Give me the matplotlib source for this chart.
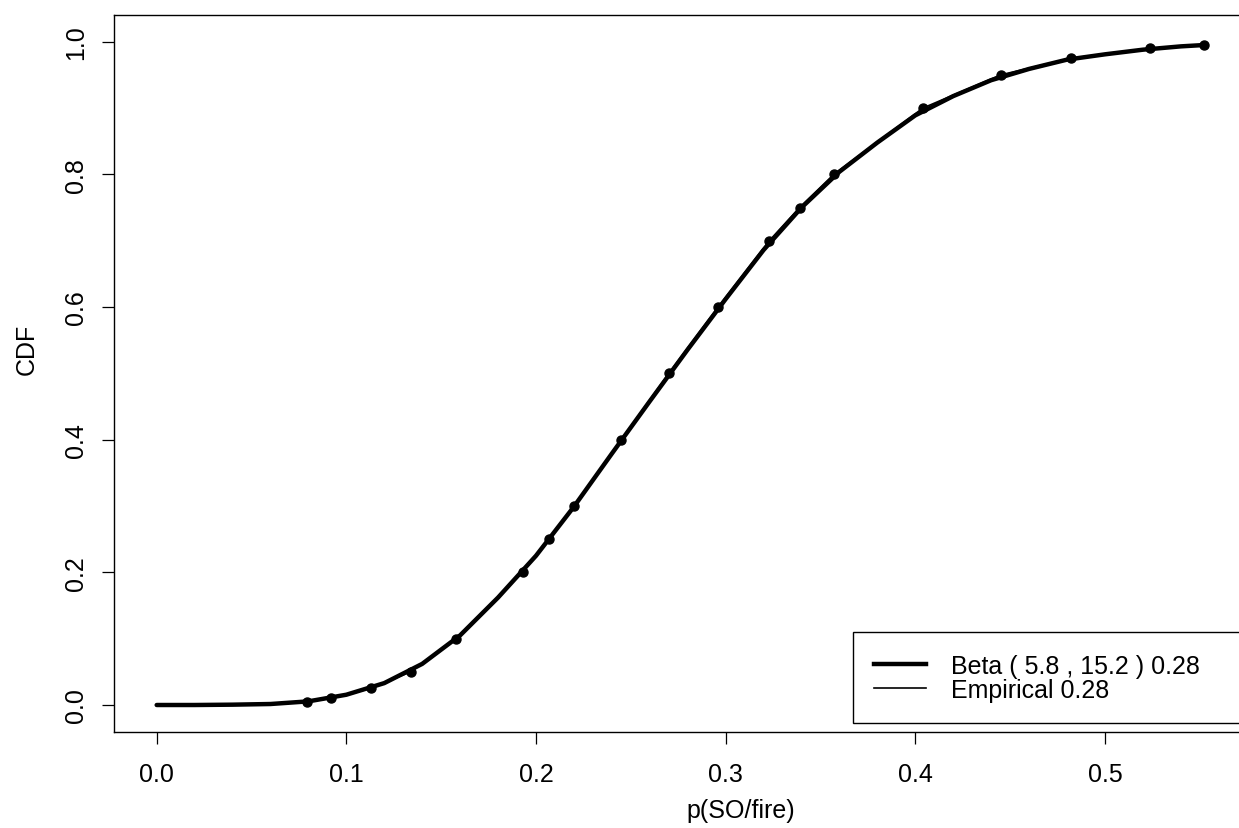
import matplotlib
matplotlib.use("Agg")
import matplotlib.pyplot as plt
from matplotlib.lines import Line2D

plt.rcParams['font.family'] = ['Liberation Sans', 'DejaVu Sans']

# Fitted Beta(5.8, 15.2) CDF curve
beta_x = [0.00, 0.02, 0.04, 0.06, 0.08, 0.10, 0.12, 0.14, 0.16, 0.18, 0.20,
          0.22, 0.24, 0.26, 0.28, 0.30, 0.32, 0.34, 0.36, 0.38, 0.40, 0.42,
          0.44, 0.46, 0.48, 0.50, 0.52, 0.54, 0.552]
beta_cdf = [0.0, 0.0, 0.0005, 0.0015, 0.0055, 0.0155, 0.033, 0.062, 0.105,
            0.162, 0.225, 0.299, 0.379, 0.458, 0.536, 0.612, 0.686, 0.750,
            0.804, 0.848, 0.889, 0.918, 0.942, 0.959, 0.973, 0.981, 0.988,
            0.993, 0.995]

# Empirical quantiles
emp_x = [0.079, 0.092, 0.113, 0.134, 0.158, 0.193, 0.207, 0.220, 0.245,
         0.270, 0.296, 0.323, 0.339, 0.357, 0.404, 0.445, 0.482, 0.524, 0.552]
emp_p = [0.005, 0.01, 0.025, 0.05, 0.1, 0.2, 0.25, 0.3, 0.4, 0.5, 0.6, 0.7,
         0.75, 0.8, 0.9, 0.95, 0.975, 0.99, 0.995]

x_ticks = [0.0, 0.1, 0.2, 0.3, 0.4, 0.5]
x_ticklabels = ["0.0", "0.1", "0.2", "0.3", "0.4", "0.5"]
y_ticks = [0.0, 0.2, 0.4, 0.6, 0.8, 1.0]
y_ticklabels = ["0.0", "0.2", "0.4", "0.6", "0.8", "1.0"]

beta_label = "Beta ( 5.8 , 15.2 ) 0.28"
emp_label = "Empirical 0.28"

W, H = 1239, 829
fig = plt.figure(figsize=(W / 100, H / 100), dpi=100)
fig.patch.set_facecolor("white")

left, right, top, bottom = 114, 1368, 16, 733
ax = fig.add_axes([left / W, (H - bottom) / H, (right - left) / W, (bottom - top) / H])

ax.plot(beta_x, beta_cdf, color="black", lw=3.2, solid_capstyle="round",
        solid_joinstyle="round", label=beta_label, zorder=3)
ax.plot(emp_x, emp_p, color="black", lw=1.2, label=emp_label, zorder=4)
ax.plot(emp_x, emp_p, linestyle="none", marker="o", markersize=6.5,
        color="black", zorder=5)

ax.set_xlim(-0.0225, 0.6387)
ax.set_ylim(-0.0407, 1.0403)

ax.set_xticks(x_ticks)
ax.set_xticklabels(x_ticklabels)
ax.set_yticks(y_ticks)
ax.set_yticklabels(y_ticklabels, rotation=90, va="center")

ax.tick_params(axis="both", direction="out", length=8.5, width=0.9,
               labelsize=18, colors="black")
ax.tick_params(axis="x", pad=13)
ax.tick_params(axis="y", pad=10)
for s in ax.spines.values():
    s.set_linewidth(1.0)
    s.set_color("black")

fig.text(741 / W, (H - 811) / H, "p(SO/fire)", ha="center", va="center", fontsize=18)
fig.text(27 / W, (H - 349) / H, "CDF", ha="center", va="center",
         rotation=90, fontsize=18)

handles = [Line2D([], [], color="black", lw=3.2),
           Line2D([], [], color="black", lw=1.2)]
leg = fig.legend(handles, [beta_label, emp_label],
                 loc="upper left",
                 bbox_to_anchor=(852.7 / W, (H - 633.3) / H, (1300 - 852.7) / W, 0.0),
                 mode="expand", fontsize=18, frameon=True, fancybox=False,
                 edgecolor="black", framealpha=1, borderpad=0.85,
                 labelspacing=0.0, handlelength=2.1, handletextpad=1.0,
                 borderaxespad=0)
leg.get_frame().set_linewidth(1.0)

fig.savefig("out.png", dpi=100, facecolor="white")
